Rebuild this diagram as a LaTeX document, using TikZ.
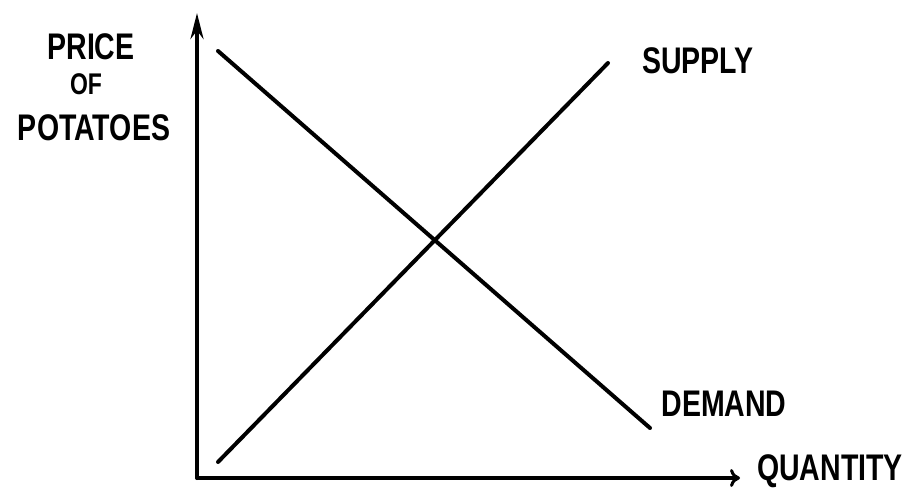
\documentclass[tikz,border=0pt]{standalone}
\usepackage{fontspec}
\setmainfont{Liberation Sans}
\usetikzlibrary{arrows.meta}
\newcommand{\tall}[1]{\scalebox{1}[1.3]{#1}}
\begin{document}
\begin{tikzpicture}[x=1pt,y=-1pt,
  ink/.style={line width=4pt,line cap=round,black},
  lbl/.style={font=\bfseries\fontsize{28.5}{30}\selectfont,inner sep=0pt}]
\useasboundingbox (0,0) rectangle (918,489);
\coordinate (O) at (197,478);
\coordinate (ytip) at (197,13);
\coordinate (xtip) at (740,478);
\coordinate (d1) at (218,51);
\coordinate (d2) at (650,428);
\coordinate (s1) at (218,462);
\coordinate (s2) at (608,63);
\draw[ink,-{Stealth[length=26pt,width=13pt]}] (O) -- (ytip);
\draw[ink,line width=3.5pt,-{To[length=10pt,width=18pt,line width=3pt]}] (O) -- (xtip);
\draw[ink] (d1) -- (d2);
\draw[ink] (s1) -- (s2);
\node[lbl] (price) at (91,47) {\tall{PRICE}};
\node[lbl,font=\bfseries\fontsize{23}{25}\selectfont] (of) at (86,84) {\tall{OF}};
\node[lbl] (potatoes) at (94,128) {\tall{POTATOES}};
\node[lbl] (supply) at (698,61) {\tall{SUPPLY}};
\node[lbl] (demand) at (724,404) {\tall{DEMAND}};
\node[lbl] (quantity) at (830,471) {\tall{QUANTITY}};
\end{tikzpicture}
\end{document}
